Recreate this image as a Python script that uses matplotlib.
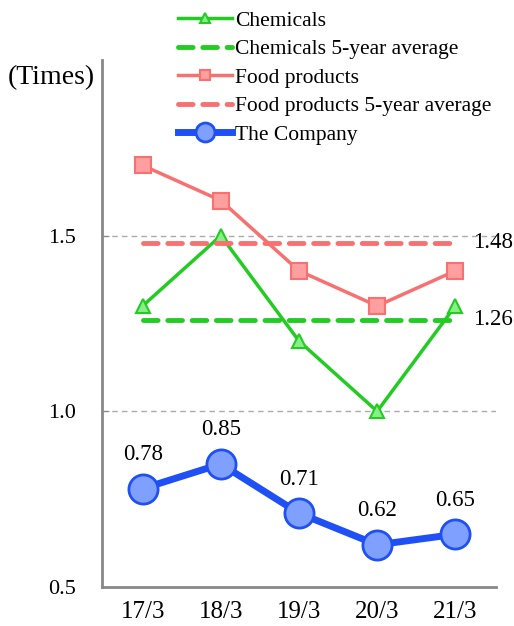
import matplotlib.pyplot as plt

plt.rcParams['font.family'] = ['Liberation Serif', 'DejaVu Serif']

years = ['17/3', '18/3', '19/3', '20/3', '21/3']
chemicals = [1.3, 1.5, 1.2, 1.0, 1.3]
food = [1.7, 1.6, 1.4, 1.3, 1.4]
company = [0.78, 0.85, 0.71, 0.62, 0.65]
chem_avg = 1.26
food_avg = 1.48
yticks = [0.5, 1.0, 1.5]

fig = plt.figure(figsize=(5.14, 6.26), dpi=100)
ax = fig.add_axes([102/514, 39/626, 394/514, 527/626])
x = list(range(len(years)))

for t in [1.0, 1.5]:
    ax.axhline(t, color='#aaaaaa', lw=1, ls=(0, (4, 3)), zorder=0)

l1, = ax.plot(x, chemicals, color='#22cc22', lw=2.5, marker='^', ms=10,
              mfc='#88ee88', mec='#22cc22', mew=1.5, label='Chemicals')
l2, = ax.plot([x[0], x[-1]], [chem_avg, chem_avg], color='#22cc22', lw=3.5,
              ls=(0, (3, 2)), dash_capstyle='round', label='Chemicals 5-year average')
l3, = ax.plot(x, food, color='#f87070', lw=2.5, marker='s', ms=11,
              mfc='#ff9f9f', mec='#f87070', mew=1.5, label='Food products')
l4, = ax.plot([x[0], x[-1]], [food_avg, food_avg], color='#f87070', lw=3.5,
              ls=(0, (3, 2)), dash_capstyle='round', label='Food products 5-year average')
l5, = ax.plot(x, company, color='#1e50f5', lw=5, marker='o', ms=21,
              mfc='#80a0ff', mec='#1e50f5', mew=2, label='The Company')

for xi, v in zip(x, company):
    ax.annotate(f'{v:.2f}', (xi, v), xytext=(0, 17), textcoords='offset points',
                ha='center', va='bottom', fontsize=16.5)
ax.annotate(f'{food_avg:.2f}', (x[-1], food_avg), xytext=(13, 0),
            textcoords='offset points', ha='left', va='center', fontsize=16.5)
ax.annotate(f'{chem_avg:.2f}', (x[-1], chem_avg), xytext=(13, 0),
            textcoords='offset points', ha='left', va='center', fontsize=16.5)

ax.set_xlim(-0.52, 4.52)
ax.set_ylim(0.5, 2.0)
ax.set_xticks(x)
ax.set_xticklabels(years, fontsize=18)
ax.set_yticks(yticks)
ax.set_yticklabels([f'{t:.1f}' for t in yticks], fontsize=16)
ax.tick_params(axis='x', length=0, pad=10)
ax.tick_params(axis='y', length=5, direction='in', color='#888888', pad=19)
for s in ['top', 'right']:
    ax.spines[s].set_visible(False)
for s in ['left', 'bottom']:
    ax.spines[s].set_color('#888888')
    ax.spines[s].set_linewidth(2)

fig.text(8/514, 1 - 78/626, '(Times)', fontsize=20, ha='left', va='center')

fig.legend(handles=[l1, l2, l3, l4, l5], loc='upper left',
           bbox_to_anchor=(167/514, 1.0), frameon=False, fontsize=15.5,
           handlelength=2.5, handletextpad=0.15, labelspacing=0.39,
           borderaxespad=0.1, markerscale=0.65)

fig.savefig('out.png', dpi=100)
